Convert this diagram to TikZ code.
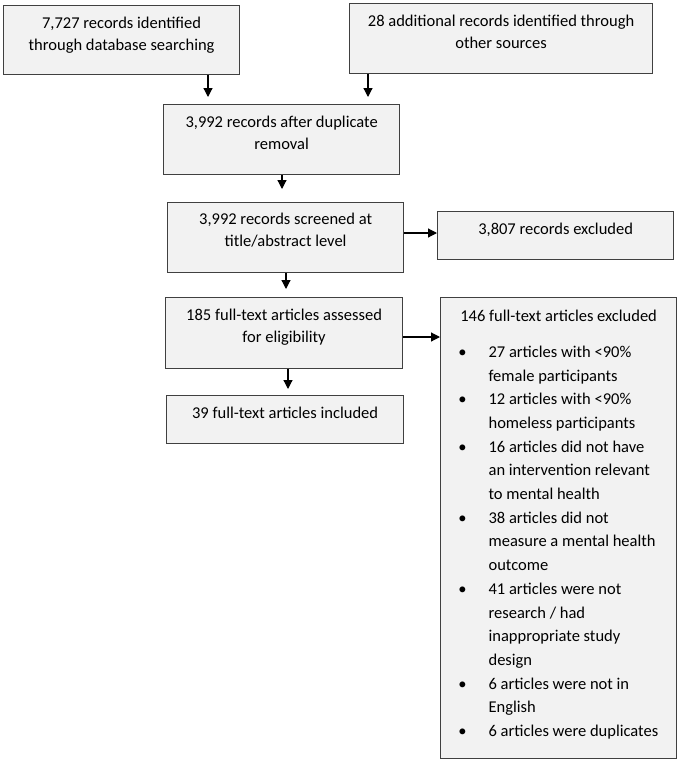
\documentclass[tikz,border=0pt]{standalone}
\usepackage{fontspec}
\setmainfont{Carlito}
\usetikzlibrary{arrows.meta}
\newcommand\bx[4]{\parbox[b][#2pt][t]{#1pt}{\centering\rule{0pt}{#3pt}#4}}
\newcommand\itm[1]{\par\leavevmode\llap{\makebox[8pt]{•}\hspace{22pt}}#1}
\begin{document}
\begin{tikzpicture}[x=1pt,y=-1pt,
  box/.style={draw=black!75, line width=1.2pt, fill=black!5, inner sep=0pt, anchor=north west,
    font=\fontsize{16.5}{22}\selectfont},
  arr/.style={line width=1.2pt, -{Triangle[length=9pt,width=9pt]}}]
\useasboundingbox[fill=white] (0,0) rectangle (679,761);
\node[box] (b1) at (3,5) {\bx{236}{69}{22.5}{7,727 records identified\\through database searching}};
\node[box] (b2) at (349,3) {\bx{303}{70}{23}{28 additional records identified through\\other sources}};
\node[box] (b3) at (163,104) {\bx{236}{70}{22.5}{3,992 records after duplicate\\removal}};
\node[box] (b4) at (167,202) {\bx{236}{70}{21.5}{3,992 records screened at\\title/abstract level}};
\node[box] (b5) at (437,211) {\bx{236}{48}{22.5}{3,807 records excluded}};
\node[box] (b6) at (165,297) {\bx{237}{71}{22.5}{185 full-text articles assessed\\for eligibility}};
\node[box] (b8) at (166,395) {\bx{237}{48}{22.5}{39 full-text articles included}};
\node[box, font=\fontsize{16.5}{23.7}\selectfont] (b7) at (440,297) {\parbox[b][461pt][t]{236pt}{%
  \centering\rule{0pt}{24pt}146 full-text articles excluded\par
  \vspace{12pt}\raggedright\leftskip=48pt\parindent=0pt
  \itm{27 articles with <90\%\\female participants}
  \itm{12 articles with <90\%\\homeless participants}
  \itm{16 articles did not have\\an intervention relevant\\to mental health}
  \itm{38 articles did not\\measure a mental health\\outcome}
  \itm{41 articles were not\\research / had\\inappropriate study\\design}
  \itm{6 articles were not in\\English}
  \itm{6 articles were duplicates}\par}};
\coordinate (x1) at (208,0);
\coordinate (x2) at (368,0);
\coordinate (x3) at (282,0);
\coordinate (x5) at (286,0);
\coordinate (x7) at (288,0);
\coordinate (y4) at (0,233);
\coordinate (y6) at (0,337);
\draw[arr, shorten >=7pt] (b1.south -| x1) -- (b3.north -| x1);
\draw[arr, shorten >=7pt] (b2.south -| x2) -- (b3.north -| x2);
\draw[arr, shorten >=13pt] (b3.south -| x3) -- (b4.north -| x3);
\draw[arr] (b4.east |- y4) -- (b5.west |- y4);
\draw[arr, shorten >=8pt] (b4.south -| x5) -- (b6.north -| x5);
\draw[arr] (b6.east |- y6) -- (b7.west |- y6);
\draw[arr, shorten >=6pt] (b6.south -| x7) -- (b8.north -| x7);
\end{tikzpicture}
\end{document}
